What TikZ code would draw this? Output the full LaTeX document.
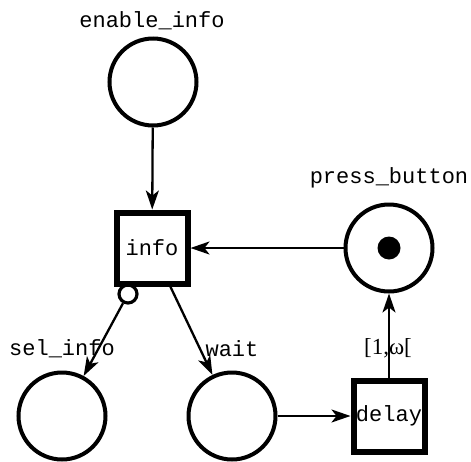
\documentclass[tikz,border=0pt]{standalone}
\usepackage{fontspec}
\setmonofont{Liberation Mono}
\newfontfamily\serifface{Liberation Serif}
\usetikzlibrary{arrows.meta}

\begin{document}
\begin{tikzpicture}[x=1pt,y=-1pt,
  place/.style={circle, draw, line width=4pt, minimum size=87pt, inner sep=0pt},
  trans/.style={rectangle, draw, line width=6pt, minimum size=71pt, inner sep=0pt,
                font=\ttfamily\fontsize{22}{25}\selectfont},
  lbl/.style={font=\ttfamily\fontsize{22}{25}\selectfont, inner sep=0pt},
  token/.style={circle, fill, minimum size=23pt, inner sep=0pt},
  inhibitor/.style={circle, draw, line width=3.2pt, minimum size=18pt, inner sep=0pt},
  arc/.style={line width=2.3pt, -{Stealth[length=19pt,width=13pt,inset=5pt]}}
]
\useasboundingbox (0,0) rectangle (471,461);

% places
\node[place] (enable) at (153,82) {};
\node[place] (press)  at (389,248) {};
\node[place] (sel)    at (62,416) {};
\node[place] (wait)   at (232,416) {};
\node[token] (tok) at (389,248) {};

% transitions
\node[trans] (info)  at (152,248) {info};
\node[trans] (delay) at (389,416) {delay};

% inhibitor mark on the info -> sel_info arc
\node[inhibitor] (inh) at (128,294) {};

% place names
\node[lbl] (lenable) at (152,21)  {enable\_info};
\node[lbl] (lpress)  at (389,178) {press\_button};
\node[lbl] (lsel)    at (62,349)  {sel\_info};
\node[lbl] (lwait)   at (232,349) {wait};

% arcs
\draw[arc] (enable) -- (info);
\draw[arc] (press) -- (info);
\draw[arc] (inh) -- (sel);
\draw[arc] (info) -- (wait);
\draw[arc] (wait) -- (delay);
\draw[arc] (delay) -- (press);

% firing interval
\node[font=\serifface\fontsize{23}{26}\selectfont, inner sep=0pt] (interval) at (388,348) {[1,ω[};
\end{tikzpicture}
\end{document}
